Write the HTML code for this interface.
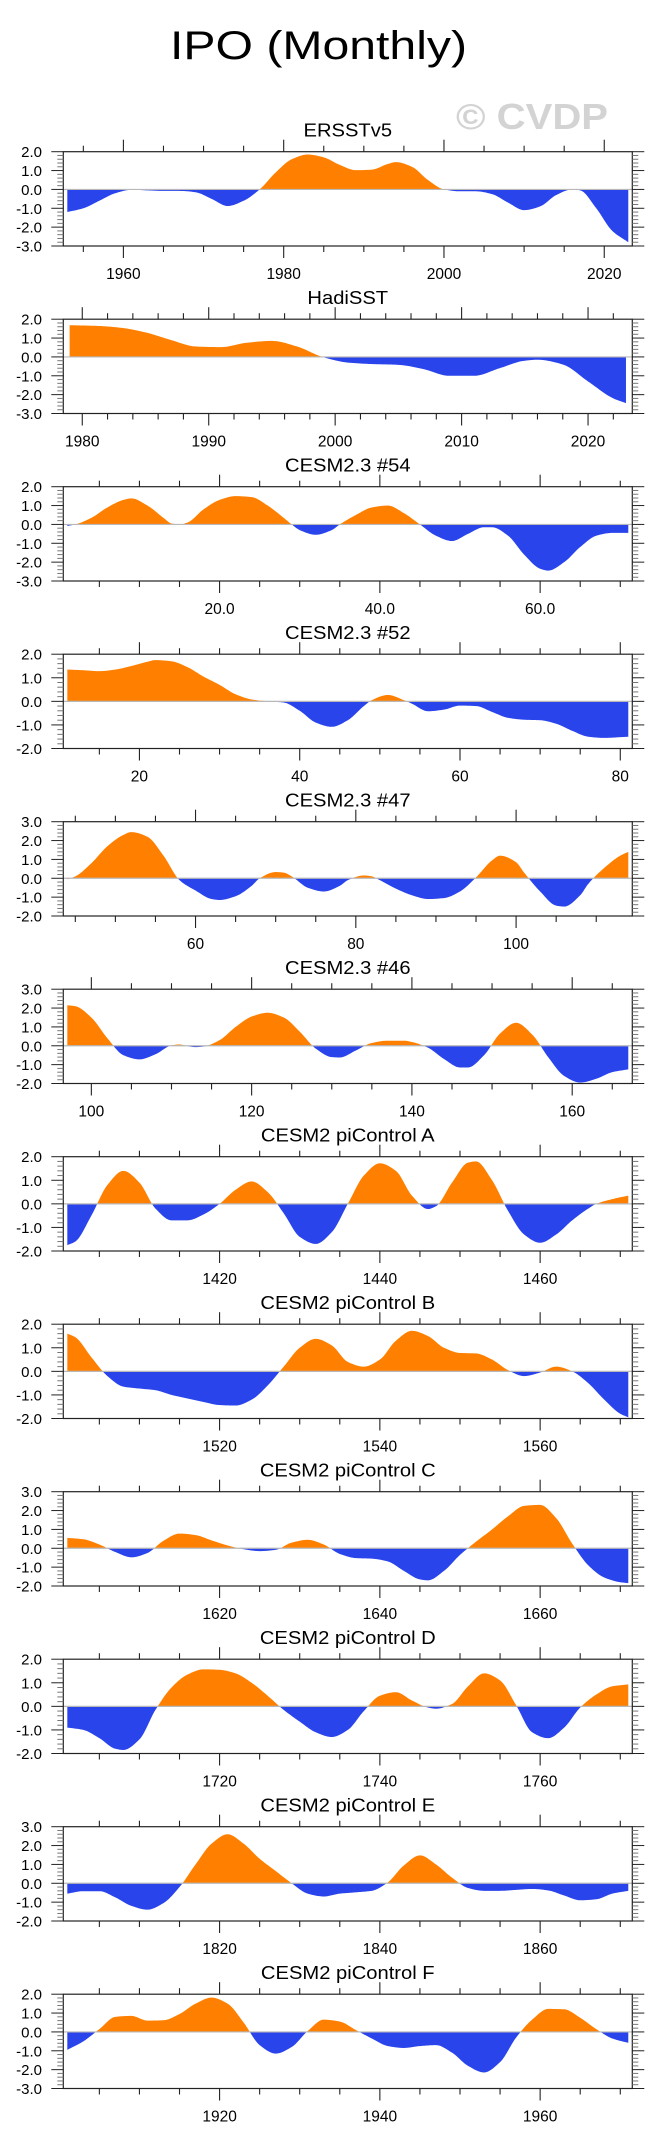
<!DOCTYPE html>
<html><head><meta charset="utf-8"><style>
html,body{margin:0;padding:0;background:#fff}
svg{display:block}
text{font-family:"Liberation Sans",Arial,sans-serif}
</style></head>
<body>
<svg id="fig" width="659" height="2154" viewBox="0 0 659 2154" xmlns="http://www.w3.org/2000/svg">
<rect width="659" height="2154" fill="#fff"/>
<text x="170" y="59" font-size="40" textLength="297" lengthAdjust="spacingAndGlyphs" fill="#000">IPO (Monthly)</text>
<text x="456" y="129" font-size="36" font-weight="bold" textLength="152" lengthAdjust="spacingAndGlyphs" fill="#d3d3d3">© CVDP</text>
</svg>
<script>
// ---- data arrays ----
const titles = ["ERSSTv5","HadiSST","CESM2.3 #54","CESM2.3 #52","CESM2.3 #47","CESM2.3 #46","CESM2 piControl A","CESM2 piControl B","CESM2 piControl C","CESM2 piControl D","CESM2 piControl E","CESM2 piControl F"];
const xMins = [1952.5,1978.5,0.5,10.5,43.5,96.5,1400.5,1500.5,1600.5,1700.5,1800.5,1900.5];
const xMaxs = [2023.5,2023.5,71.5,81.5,114.5,167.5,1471.5,1571.5,1671.5,1771.5,1871.5,1971.5];
const yMaxs = [2,2,2,2,3,3,2,2,3,2,3,2];
const yMins = [-3,-3,-3,-2,-2,-2,-2,-2,-2,-2,-2,-3];
const majorSteps = [20,10,20,20,20,20,20,20,20,20,20,20];
const minorSteps = [5,2,5,5,5,5,5,5,5,5,5,5];
const labelDecimals = [0,0,1,0,0,0,0,0,0,0,0,0];

const ersstX = [1953,1955,1957,1959,1961,1963,1965,1967,1969,1971,1973,1975,1977,1979,1981,1983,1985,1987,1989,1991,1993,1994,1996,1998,2000,2002,2004,2006,2008,2010,2012,2014,2016,2017,2019,2021,2023];
const ersstY = [-1.2,-1.0,-0.6,-0.2,-0.02,-0.05,-0.08,-0.08,-0.15,-0.5,-0.88,-0.6,0.0,0.9,1.6,1.85,1.7,1.3,1.02,1.05,1.35,1.45,1.2,0.5,0.0,-0.1,-0.1,-0.25,-0.7,-1.1,-0.9,-0.3,0.0,-0.05,-1.0,-2.2,-2.8];
const hadiX = [1979,1981,1983,1985,1987,1989,1991,1993,1995,1997,1999,2001,2003,2005,2007,2009,2011,2013,2015,2016,2018,2020,2022,2023];
const hadiY = [1.68,1.65,1.55,1.3,0.9,0.55,0.52,0.75,0.85,0.55,0.0,-0.3,-0.38,-0.42,-0.65,-1.0,-1.0,-0.6,-0.2,-0.15,-0.4,-1.3,-2.2,-2.45];
const c54X = [1,2,4,6,8,9,11,13,14,15,16,18,20,22,24,26,28,29,30,32,34,35,37,39,41,43,45,47,49,51,53,54,56,58,60,61,63,65,67,69,71];
const c54Y = [-0.08,0,0.35,0.9,1.3,1.38,1.0,0.35,0.05,0.0,0.1,0.8,1.3,1.5,1.45,1.0,0.35,0.0,-0.3,-0.55,-0.3,0.0,0.5,0.9,1.0,0.6,0.0,-0.6,-0.88,-0.5,-0.15,-0.15,-0.6,-1.6,-2.35,-2.45,-2.0,-1.2,-0.6,-0.45,-0.45];
const c52X = [11,13,15,17,19,21,22,24,26,28,30,32,34,36,38,40,42,44,46,48,49,51,53,54,56,58,60,62,64,66,68,70,72,74,76,78,80,81];
const c52Y = [1.35,1.32,1.28,1.35,1.5,1.68,1.75,1.7,1.45,1.05,0.7,0.3,0.08,0.0,-0.05,-0.4,-0.9,-1.08,-0.8,-0.2,0.05,0.27,0.05,-0.1,-0.42,-0.35,-0.18,-0.2,-0.45,-0.7,-0.78,-0.8,-0.95,-1.25,-1.5,-1.55,-1.52,-1.5];
const c47X = [44,45,47,49,51,52,54,56,58,60,62,63,65,67,68,70,71,72,74,76,78,79,81,82,83,85,87,89,91,93,95,97,98,100,101,103,105,106,108,109,111,113,114];
const c47Y = [-0.05,0.1,0.8,1.7,2.3,2.45,2.2,1.2,-0.1,-0.65,-1.1,-1.15,-0.95,-0.4,0.0,0.33,0.3,0.1,-0.5,-0.7,-0.4,-0.1,0.15,0.1,-0.1,-0.55,-0.9,-1.1,-1.05,-0.7,0.05,0.95,1.2,0.85,0.3,-0.7,-1.45,-1.5,-0.9,-0.3,0.55,1.2,1.4];
const c46X = [97,98,100,102,104,106,108,110,111,112,113,114,116,118,120,122,124,126,128,130,131,133,135,137,139,140,142,144,146,147,149,151,153,155,157,159,161,163,165,167];
const c46Y = [2.15,2.1,1.5,0.4,-0.5,-0.72,-0.45,0.02,0.07,-0.02,-0.07,-0.04,0.3,1.0,1.55,1.75,1.5,0.75,-0.15,-0.6,-0.62,-0.25,0.15,0.27,0.27,0.2,-0.1,-0.7,-1.15,-1.15,-0.5,0.65,1.22,0.6,-0.6,-1.6,-1.95,-1.75,-1.4,-1.25];
const piAX = [1401,1402,1404,1406,1408,1410,1412,1414,1416,1418,1420,1422,1424,1426,1428,1430,1432,1434,1436,1438,1440,1442,1444,1446,1447,1449,1451,1452,1454,1456,1458,1460,1462,1464,1466,1467,1469,1471];
const piAY = [-1.75,-1.6,-0.5,0.8,1.4,0.9,-0.2,-0.7,-0.7,-0.45,0.0,0.6,0.95,0.5,-0.4,-1.4,-1.7,-1.2,0.0,1.2,1.72,1.4,0.35,-0.22,-0.1,0.9,1.75,1.8,1.0,-0.3,-1.3,-1.65,-1.3,-0.7,-0.2,0.0,0.2,0.35];
const piBX = [1501,1502,1504,1506,1508,1510,1512,1514,1516,1518,1520,1522,1524,1526,1528,1530,1532,1534,1536,1538,1540,1542,1544,1546,1548,1550,1552,1554,1556,1558,1560,1562,1564,1566,1568,1570,1571];
const piBY = [1.6,1.45,0.6,-0.2,-0.65,-0.73,-0.8,-1.0,-1.15,-1.3,-1.43,-1.45,-1.2,-0.6,0.2,1.0,1.38,1.1,0.4,0.2,0.5,1.3,1.72,1.5,1.0,0.78,0.76,0.5,0.05,-0.2,-0.05,0.2,0.0,-0.5,-1.2,-1.8,-1.95];
const piCX = [1601,1603,1605,1607,1609,1611,1613,1615,1617,1619,1621,1623,1625,1627,1629,1631,1633,1635,1637,1639,1641,1643,1645,1646,1648,1650,1652,1654,1656,1658,1660,1662,1664,1666,1668,1670,1671];
const piCY = [0.55,0.48,0.2,-0.2,-0.48,-0.25,0.4,0.78,0.7,0.42,0.15,-0.05,-0.15,-0.08,0.3,0.45,0.2,-0.3,-0.52,-0.55,-0.7,-1.2,-1.65,-1.7,-1.2,-0.35,0.35,1.0,1.7,2.25,2.3,1.6,0.25,-0.9,-1.55,-1.8,-1.85];
const piDX = [1701,1703,1705,1707,1708,1710,1712,1714,1716,1718,1720,1722,1724,1726,1728,1730,1732,1734,1736,1738,1740,1742,1744,1746,1747,1749,1751,1753,1755,1757,1759,1761,1763,1765,1767,1769,1771];
const piDY = [-0.9,-1.0,-1.35,-1.8,-1.85,-1.4,-0.15,0.8,1.35,1.57,1.55,1.4,1.0,0.45,-0.15,-0.65,-1.1,-1.3,-1.0,-0.2,0.45,0.6,0.25,-0.05,-0.1,0.1,0.85,1.4,1.1,0.05,-1.1,-1.35,-0.9,-0.05,0.5,0.85,0.93];
const piEX = [1801,1803,1805,1807,1809,1811,1813,1815,1817,1819,1821,1823,1825,1827,1829,1831,1833,1835,1837,1839,1841,1843,1845,1847,1849,1851,1853,1855,1857,1859,1861,1863,1865,1867,1869,1871];
const piEY = [-0.55,-0.42,-0.42,-0.75,-1.2,-1.4,-1.05,-0.2,1.0,2.1,2.6,2.1,1.3,0.65,0.0,-0.55,-0.7,-0.55,-0.48,-0.4,0.05,0.95,1.48,1.0,0.3,-0.25,-0.4,-0.4,-0.35,-0.3,-0.38,-0.65,-0.9,-0.85,-0.55,-0.4];
const piFX = [1901,1903,1905,1907,1909,1911,1913,1915,1917,1919,1921,1923,1925,1927,1929,1931,1933,1935,1937,1939,1941,1943,1945,1947,1949,1951,1953,1955,1957,1959,1961,1963,1965,1967,1969,1971];
const piFY = [-0.95,-0.5,0.15,0.8,0.85,0.6,0.62,0.95,1.5,1.82,1.5,0.5,-0.7,-1.15,-0.8,0.05,0.65,0.55,0.1,-0.35,-0.75,-0.85,-0.75,-0.7,-1.1,-1.8,-2.15,-1.6,-0.3,0.65,1.22,1.2,0.75,0.15,-0.35,-0.58];

const seriesX = [ersstX,hadiX,c54X,c52X,c47X,c46X,piAX,piBX,piCX,piDX,piEX,piFX];
const seriesY = [ersstY,hadiY,c54Y,c52Y,c47Y,c46Y,piAY,piBY,piCY,piDY,piEY,piFY];
const panelNames = ["ersstv5","hadisst","cesm23-54","cesm23-52","cesm23-47","cesm23-46","picontrol-a","picontrol-b","picontrol-c","picontrol-d","picontrol-e","picontrol-f"];

// ---- layout ----
const NS = "http://www.w3.org/2000/svg";
const svg = document.getElementById('fig');
const L = 63.3, R = 632.3, H = 94.3, TOP0 = 151.7, GAP = 167.5;

function mk(tag, attrs, parent){
  const e = document.createElementNS(NS, tag);
  for (const k in attrs) e.setAttribute(k, attrs[k]);
  (parent||svg).appendChild(e);
  return e;
}

// monotone cubic (Fritsch-Carlson)
function smooth(xs, ys){
  const n = xs.length;
  const dl = [], m = [];
  for (let i=0;i<n-1;i++) dl.push((ys[i+1]-ys[i])/(xs[i+1]-xs[i]));
  m[0]=dl[0]; m[n-1]=dl[n-2];
  for (let i=1;i<n-1;i++){
    if (dl[i-1]*dl[i] <= 0) m[i]=0;
    else {
      const w1 = 2*(xs[i+1]-xs[i]) + (xs[i]-xs[i-1]);
      const w2 = (xs[i+1]-xs[i]) + 2*(xs[i]-xs[i-1]);
      m[i] = (w1+w2)/(w1/dl[i-1] + w2/dl[i]);
    }
  }
  const pts = [];
  for (let i=0;i<n-1;i++){
    const h = xs[i+1]-xs[i];
    const S = 14;
    for (let s=0;s<S;s++){
      const t=s/S, t2=t*t, t3=t2*t;
      const y=(2*t3-3*t2+1)*ys[i]+(t3-2*t2+t)*h*m[i]+(-2*t3+3*t2)*ys[i+1]+(t3-t2)*h*m[i+1];
      pts.push([xs[i]+t*h, y]);
    }
  }
  pts.push([xs[n-1], ys[n-1]]);
  return pts;
}

for (let p=0;p<titles.length;p++){
  const top = TOP0 + GAP*p, bot = top + H;
  const xmin=xMins[p], xmax=xMaxs[p], ymin=yMins[p], ymax=yMaxs[p];
  const sx = v => L + (v-xmin)/(xmax-xmin)*(R-L);
  const sy = v => top + (ymax-v)/(ymax-ymin)*H;
  const g = mk('g', {});
  
  

  const ttl = mk('text', {x:(L+R)/2, y:top-15, 'font-size':18, 'text-anchor':'middle', fill:'#000'}, g);
  ttl.textContent = titles[p];
  
  
  const w = ttl.getComputedTextLength();
  if (w>0){ ttl.setAttribute('textLength', (w*1.12).toFixed(1)); ttl.setAttribute('lengthAdjust','spacingAndGlyphs'); }

  const cid = 'c'+p;
  const defs = mk('defs', {}, g);
  const cpA = mk('clipPath', {id:cid+'a'}, defs);
  mk('rect', {x:L, y:top, width:R-L, height:sy(0)-top}, cpA);
  const cpB = mk('clipPath', {id:cid+'b'}, defs);
  mk('rect', {x:L, y:sy(0), width:R-L, height:bot-sy(0)}, cpB);
  const pts = smooth(seriesX[p], seriesY[p]);
  let d = 'M'+sx(pts[0][0]).toFixed(2)+','+sy(0).toFixed(2);
  for (const q of pts) d += 'L'+sx(q[0]).toFixed(2)+','+sy(q[1]).toFixed(2);
  d += 'L'+sx(pts[pts.length-1][0]).toFixed(2)+','+sy(0).toFixed(2)+'Z';
  const pos = mk('path', {d:d, fill:'#ff8000', 'clip-path':'url(#'+cid+'a)'}, g);
  
  
  const neg = mk('path', {d:d, fill:'#2a44ec', 'clip-path':'url(#'+cid+'b)'}, g);
  
  

  const zl = mk('line', {x1:L, x2:R, y1:sy(0), y2:sy(0), stroke:'#b8b8b8', 'stroke-width':1.2}, g);
  
  

  const box = mk('rect', {x:L, y:top, width:R-L, height:H, fill:'none', stroke:'#222', 'stroke-width':1.2}, g);
  
  

  const ms = minorSteps[p], Ms = majorSteps[p];
  for (let v=Math.ceil(xmin/ms)*ms; v<=xmax+1e-9; v+=ms){
    const x = sx(v);
    const major = Math.abs(v/Ms - Math.round(v/Ms))<1e-6;
    const len = major?12:6;
    mk('line', {x1:x,x2:x,y1:top,y2:top-len,stroke:'#222','stroke-width':1.1}, g);
    mk('line', {x1:x,x2:x,y1:bot,y2:bot+len,stroke:'#222','stroke-width':1.1}, g);
    if (major){
      const t = mk('text', {x:x, y:bot+33, 'font-size':15.5, 'text-anchor':'middle', fill:'#000'}, g);
      t.textContent = v.toFixed(labelDecimals[p]);
      
      
    }
  }
  for (let k=Math.round(ymin*5); k<=Math.round(ymax*5); k++){
    const v=k/5, y=sy(v);
    const major = k%5===0;
    const len = major?12:6;
    mk('line', {x1:L,x2:L-len,y1:y,y2:y,stroke:major?'#222':'#777','stroke-width':1}, g);
    mk('line', {x1:R,x2:R+len,y1:y,y2:y,stroke:major?'#222':'#777','stroke-width':1}, g);
    if (major){
      const t = mk('text', {x:42, y:y+5.5, 'font-size':15, 'text-anchor':'end', fill:'#000'}, g);
      t.textContent = v.toFixed(1);
      
      
    }
  }
}
</script>
</body></html>
